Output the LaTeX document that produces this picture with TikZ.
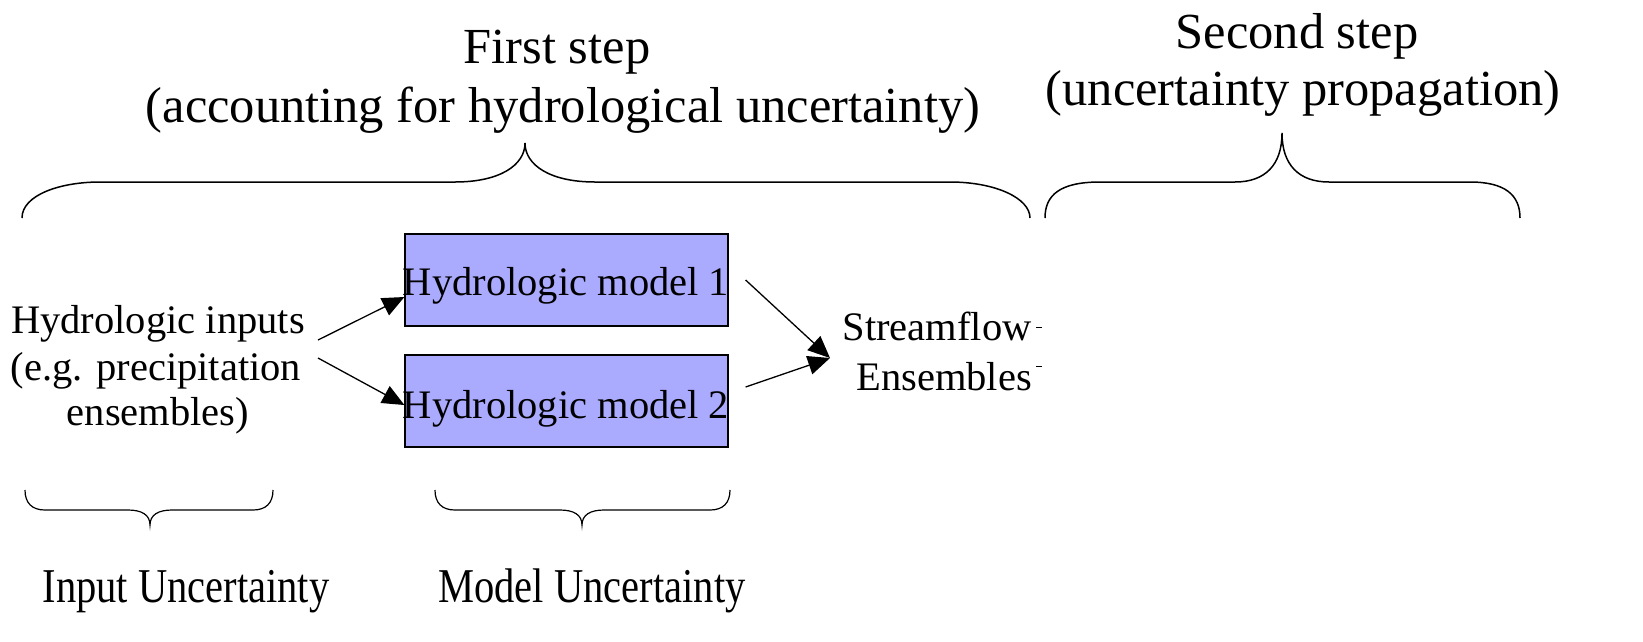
\documentclass[tikz,border=0pt]{standalone}
\usepackage{fontspec}
\setmainfont{Liberation Serif}
\usetikzlibrary{arrows.meta}
\begin{document}
\begin{tikzpicture}[x=1pt,y=-1pt,
  txt/.style={inner sep=0pt, align=center, font=\fontsize{40.5}{47}\selectfont},
  title/.style={inner sep=0pt, align=center, font=\fontsize{50.5}{58}\selectfont},
  modelbox/.style={draw=black, line width=1.2pt, fill={rgb,255:red,170;green,170;blue,255}, minimum width=323pt, minimum height=92pt, inner sep=0pt},
  brace/.style={draw=black, line width=1.5pt},
  tick/.style={draw=black, line width=1pt},
  conn/.style={draw=black, line width=1.3pt, -{Triangle[length=22pt,width=19pt]}}]
\useasboundingbox (0,0) rectangle (1643,641);
% titles
\node[title, anchor=base] (t1a) at (557,63) {First step};
\node[title, anchor=base] (t1b) at (563,122) {(accounting for hydrological uncertainty)};
\node[title, anchor=base] (t2a) at (1297,48) {Second step};
\node[title, anchor=base] (t2b) at (1303,105) {(uncertainty propagation)};
% big braces
\draw[brace] (22,218) .. controls (22,195) and (60,182) .. (100,182) -- (455,182) .. controls (500,182) and (525,165) .. (525,143) .. controls (525,165) and (550,182) .. (595,182) -- (950,182) .. controls (995,182) and (1030,198) .. (1030,218);
\draw[brace] (1045,218) .. controls (1045,195) and (1060,182) .. (1100,182) -- (1235,182) .. controls (1265,182) and (1282,165) .. (1282,133) .. controls (1282,165) and (1299,182) .. (1329,182) -- (1470,182) .. controls (1505,182) and (1520,195) .. (1520,218);
% boxes
\node[modelbox] (m1) at (566.5,280) {};
\node[modelbox] (m2) at (566.5,401) {};
\node[txt, anchor=base] (m1t) at (566,295) {Hydrologic model 1};
\node[txt, anchor=base] (m2t) at (566,418) {Hydrologic model 2};
% input text
\node[txt, anchor=base] (in1) at (158,333) {Hydrologic inputs};
\node[txt, anchor=base] (in2) at (156,380) {(e.g. precipitation};
\node[txt, anchor=base] (in3) at (158,425) {ensembles)};
\coordinate (ia) at (318,340);
\coordinate (ib) at (318,358);
% streamflow
\node[txt, anchor=base] (sf1) at (937,340) {Streamflow};
\node[txt, anchor=base] (sf2) at (944,390) {Ensembles};
\coordinate (st) at (830,358);
\draw[tick] (1036,327) -- (1042,327);
\draw[tick] (1036,366) -- (1042,366);
% arrows
\draw[conn] (ia) -- (m1.west |- 0,297);
\draw[conn] (ib) -- (m2.west |- 0,405);
\draw[conn] ([xshift=17pt]m1.east) -- (st);
\draw[conn] ([xshift=17pt,yshift=14pt]m2.east) -- (st);
% small braces
\draw[brace, line width=1.2pt] (25,490) .. controls (25,503) and (32,510) .. (45,510) -- (128,510) .. controls (142,510) and (150,515) .. (150,525) .. controls (150,515) and (158,510) .. (172,510) -- (253,510) .. controls (266,510) and (273,503) .. (273,490);
\draw[brace, line width=1.2pt] (435,490) .. controls (435,503) and (442,510) .. (455,510) -- (560,510) .. controls (574,510) and (582,515) .. (582,525) .. controls (582,515) and (590,510) .. (604,510) -- (710,510) .. controls (723,510) and (730,503) .. (730,490);
% labels
\node[txt, anchor=base] (lin) at (186,602) {\scalebox{1}[1.2]{Input Uncertainty}};
\node[txt, anchor=base] (lmo) at (592,602) {\scalebox{1}[1.2]{Model Uncertainty}};
\end{tikzpicture}
\end{document}
